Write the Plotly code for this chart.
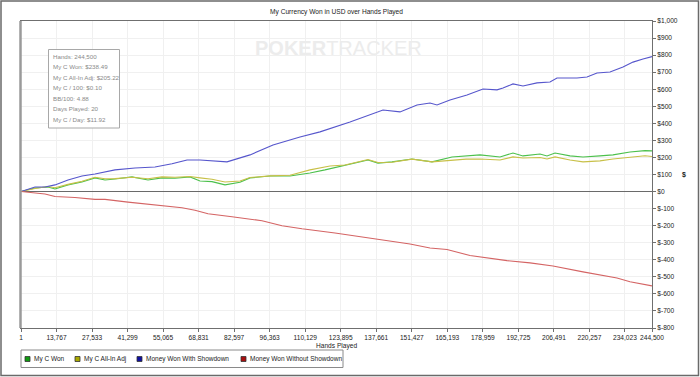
import plotly.graph_objects as go

# ---------------- data ----------------
title_text = "My Currency Won in USD over Hands Played"
x_title = "Hands Played"
y_title = "$"

series_names = ["My C Won", "My C All-In Adj", "Money Won With Showdown", "Money Won Without Showdown"]

won_hands = [1, 5425, 10462, 13174, 18212, 23636, 28674, 32548, 36423, 43010, 49210, 54635, 59672,
             65484, 69359, 74009, 79046, 84858, 88733, 96483, 104232, 111982, 117794, 125544, 134456,
             138330, 143755, 151505, 159254, 167004, 172429, 177853, 185603, 190640, 194515, 201102,
             203814, 206914, 212726, 217764, 224351, 229388, 235975, 241788, 244500]
won_vals = [0, 21, 27, 15, 39, 56, 80, 68, 74, 86, 68, 80, 78,
            86, 62, 58, 39, 55, 80, 91, 91, 109, 127, 156, 185,
            167, 174, 191, 174, 203, 210, 215, 203, 226, 209, 220,
            209, 226, 209, 203, 209, 215, 232, 240, 238.49]

adj_hands = [1, 5425, 10462, 13174, 18212, 23636, 28674, 32548, 36423, 43010, 49210, 54635, 59672,
             65484, 69359, 74009, 79046, 84858, 88733, 96483, 104232, 111982, 119731, 125544, 134456,
             138330, 143755, 151505, 159254, 167004, 172429, 177853, 185603, 190640, 194515, 201102,
             203814, 206914, 212726, 217764, 224351, 229388, 235975, 241788, 244500]
adj_vals = [0, 18, 30, 22, 42, 60, 84, 75, 76, 84, 75, 86, 84,
            88, 80, 72, 56, 62, 82, 92, 96, 127, 150, 156, 188,
            170, 172, 190, 174, 185, 190, 191, 185, 203, 197, 200,
            191, 203, 185, 174, 180, 191, 203, 210, 205.22]

sd_hands = [1, 5425, 9300, 13174, 18212, 23636, 28674, 36423, 44173, 51922, 58509, 64322, 69359,
            79821, 88733, 97645, 108107, 115857, 127481, 135231, 140268, 146855, 153442, 158479,
            161192, 166229, 172816, 179016, 184441, 186765, 190640, 194515, 199940, 204977, 207689,
            215439, 219314, 223188, 228226, 233263, 237138, 241013, 244500]
sd_vals = [0, 27, 27, 39, 68, 91, 103, 127, 138, 144, 163, 185, 185,
           174, 215, 273, 320, 350, 408, 449, 478, 467, 508, 519,
           508, 537, 566, 601, 596, 607, 631, 619, 637, 642, 666,
           666, 672, 695, 701, 730, 759, 777, 791]

nsd_hands = [1, 9300, 13174, 20924, 28674, 32548, 41460, 48048, 55797, 62384, 67421, 72459, 81758,
             93383, 101132, 108882, 121669, 131356, 137943, 150730, 158479, 165067, 173979, 180566,
             188315, 197227, 206139, 217764, 227063, 230938, 235975, 244500]
nsd_vals = [0, -14, -29, -35, -46, -46, -62, -72, -88, -95, -110, -130, -148,
            -171, -200, -218, -243, -264, -282, -307, -331, -340, -375, -389,
            -405, -418, -436, -471, -495, -507, -529, -553]

x_tickvals = [1, 13767, 27533, 41299, 55065, 68831, 82597, 96363, 110129, 123895, 137661,
              151427, 165193, 178959, 192725, 206491, 220257, 234023, 244500]
y_tickvals = [1000, 900, 800, 700, 600, 500, 400, 300, 200, 100, 0,
              -100, -200, -300, -400, -500, -600, -700, -800]

stats_lines = ["Hands: 244,500", "My C Won: $238.49", "My C All-In Adj: $205.22",
               "My C / 100: $0.10", "BB/100: 4.88", "Days Played: 20", "My C / Day: $11.92"]

line_colors = ["#4cc04c", "#c8c048", "#5656cc", "#d46464"]
swatch_colors = ["#109a10", "#a8a800", "#1010a0", "#a81010"]

# ---------------- layout helpers ----------------
W, H = 700, 377
L, R, T, B = 21, 48, 21, 49
PW, PH = W - L - R, H - T - B


def px(x):
    return (x - L) / PW


def py(y):
    return (H - B - y) / PH


FONT = "Liberation Sans, Arial, sans-serif"

fig = go.Figure()
all_series = [(won_hands, won_vals), (adj_hands, adj_vals), (sd_hands, sd_vals), (nsd_hands, nsd_vals)]
for (hx, hy), name, col in zip(all_series, series_names, line_colors):
    fig.add_trace(go.Scatter(x=hx, y=hy, mode="lines", name=name,
                             line=dict(color=col, width=1.1), showlegend=False))

shapes = []
annotations = []

# outer chart frame
shapes.append(dict(type="rect", xref="paper", yref="paper", x0=px(1), x1=px(698.5), y0=py(375.5), y1=py(1),
                   line=dict(color="#6a6a6a", width=1.5), layer="below"))
# thick left edge of plot area
shapes.append(dict(type="line", xref="paper", yref="paper", x0=px(20.5), x1=px(20.5), y0=0, y1=1,
                   line=dict(color="#9a9a9a", width=2.5)))

# stats box
shapes.append(dict(type="rect", xref="paper", yref="paper", x0=px(48.5), x1=px(119.5), y0=py(128), y1=py(49.5),
                   line=dict(color="#a8a8a8", width=1), fillcolor="white"))
for i, s in enumerate(stats_lines):
    annotations.append(dict(xref="paper", yref="paper", x=px(50.5), y=py(56 + i * 10.5), text=s,
                            showarrow=False, xanchor="left", yanchor="middle",
                            font=dict(family=FONT, size=6.2, color="#8a8a8a")))

# watermark
annotations.append(dict(xref="paper", yref="paper", x=px(338), y=py(48),
                        text="<b>POKER</b>TRACKER", showarrow=False, xanchor="center", yanchor="middle",
                        font=dict(family="Liberation Sans, Arial", size=20, color="#ececec")))

# legend box and entries
shapes.append(dict(type="rect", xref="paper", yref="paper", x0=px(21), x1=px(343), y0=py(367.5), y1=py(350),
                   line=dict(color="#8a8a8a", width=1), fillcolor="white"))
legend_x = [25, 75, 137, 241]
for name, sx, sc in zip(series_names, legend_x, swatch_colors):
    shapes.append(dict(type="rect", xref="paper", yref="paper", x0=px(sx), x1=px(sx + 5),
                       y0=py(361.5), y1=py(356.5), line=dict(color="#333333", width=0.8), fillcolor=sc))
    annotations.append(dict(xref="paper", yref="paper", x=px(sx + 6.5), y=py(359), text=name,
                            showarrow=False, xanchor="left", yanchor="middle",
                            font=dict(family=FONT, size=6.5, color="#222222")))

# axis titles
annotations.append(dict(xref="paper", yref="paper", x=0.5, y=py(345.5), text=x_title, showarrow=False,
                        xanchor="center", yanchor="middle", font=dict(family=FONT, size=6.6, color="#222222")))
annotations.append(dict(xref="paper", yref="paper", x=px(683.5), y=py(175), text="<b>" + y_title + "</b>",
                        showarrow=False, xanchor="center", yanchor="middle",
                        font=dict(family=FONT, size=7, color="#222222")))

fig.update_layout(
    width=W, height=H,
    margin=dict(l=L, r=R, t=T, b=B, pad=0),
    paper_bgcolor="white", plot_bgcolor="white",
    title=dict(text=title_text, x=0.5, xref="paper", xanchor="center", y=1 - 12 / H, yref="container",
               yanchor="middle", font=dict(family=FONT, size=6.6, color="#222222")),
    showlegend=False,
    shapes=shapes,
    annotations=annotations,
    xaxis=dict(range=[1, 244500], tickvals=x_tickvals, ticktext=[f"{v:,}" for v in x_tickvals],
               showgrid=True, gridcolor="#f0f0f0", gridwidth=1,
               showline=True, linecolor="#6f6f6f", linewidth=1, mirror=True,
               ticks="outside", ticklen=3, tickcolor="#6f6f6f",
               tickfont=dict(family=FONT, size=6.6, color="#222222"), zeroline=False,
               fixedrange=True),
    yaxis=dict(range=[-800, 1000], side="right", tickvals=y_tickvals,
               ticktext=[f"${v:,}" for v in y_tickvals],
               showgrid=True, gridcolor="#f0f0f0", gridwidth=1,
               showline=True, linecolor="#6f6f6f", linewidth=1, mirror=True,
               ticks="outside", ticklen=3, tickcolor="#6f6f6f",
               tickfont=dict(family=FONT, size=6.6, color="#222222"),
               zeroline=True, zerolinecolor="#6a6a6a", zerolinewidth=1, fixedrange=True),
)

fig.write_html("out.html")
